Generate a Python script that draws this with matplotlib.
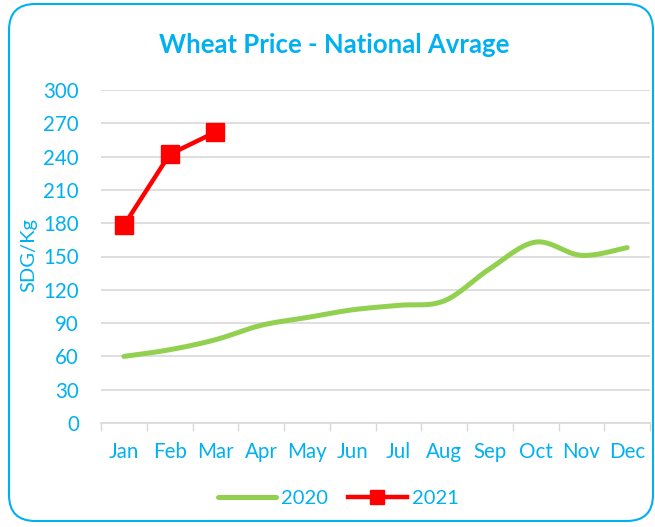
import numpy as np
import matplotlib
matplotlib.use("Agg")
import matplotlib.pyplot as plt
from matplotlib.patches import FancyBboxPatch
from matplotlib.lines import Line2D

months = ["Jan", "Feb", "Mar", "Apr", "May", "Jun", "Jul", "Aug", "Sep", "Oct", "Nov", "Dec"]
price_2020 = [60, 66, 75, 88, 95, 102, 106, 110, 139, 163, 151, 158]
price_2021 = [178, 242, 262]
yticks = [0, 30, 60, 90, 120, 150, 180, 210, 240, 270, 300]

CYAN = "#00B0F0"
GREEN = "#92D050"
RED = "#FF0000"
plt.rcParams['font.family'] = ['Lato', 'DejaVu Sans']


def smooth(xs, ys, n=30):
    # Excel-style smoothed line (Catmull-Rom Bezier, tension 1/6)
    xs = np.asarray(xs, float)
    ys = np.asarray(ys, float)
    px, py = [], []
    for i in range(len(xs) - 1):
        x0, y0 = (xs[i - 1], ys[i - 1]) if i > 0 else (xs[i], ys[i])
        x1, y1 = xs[i], ys[i]
        x2, y2 = xs[i + 1], ys[i + 1]
        x3, y3 = (xs[i + 2], ys[i + 2]) if i + 2 < len(xs) else (xs[i + 1], ys[i + 1])
        c1x, c1y = x1 + (x2 - x0) / 6, y1 + (y2 - y0) / 6
        c2x, c2y = x2 - (x3 - x1) / 6, y2 - (y3 - y1) / 6
        t = np.linspace(0, 1, n)
        bx = (1 - t) ** 3 * x1 + 3 * (1 - t) ** 2 * t * c1x + 3 * (1 - t) * t ** 2 * c2x + t ** 3 * x2
        by = (1 - t) ** 3 * y1 + 3 * (1 - t) ** 2 * t * c1y + 3 * (1 - t) * t ** 2 * c2y + t ** 3 * y2
        px.extend(bx); py.extend(by)
    return np.array(px), np.array(py)


fig = plt.figure(figsize=(6.55, 5.27), dpi=100)
fig.patch.set_facecolor("white")

border = FancyBboxPatch((9 / 655, 6 / 527), 644 / 655, 517 / 527,
                        boxstyle="round,pad=0,rounding_size=0.04",
                        transform=fig.transFigure, fill=False,
                        edgecolor=CYAN, linewidth=1.5, mutation_aspect=655 / 527)
fig.patches.append(border)

ax = fig.add_axes([101 / 655, 1 - 423 / 527, 549 / 655, 333 / 527])
x = np.arange(len(months))
sx, sy = smooth(x, price_2020)
ax.plot(sx, sy, color=GREEN, lw=3.6, solid_capstyle="round", zorder=3)
x21 = np.arange(len(price_2021))
ax.plot(x21, price_2021, color=RED, lw=3.2, marker="s", markersize=12.5, zorder=4)

ax.set_xlim(-0.5, len(months) - 0.5)
ax.set_ylim(0, 300)
ax.set_yticks(yticks)
ax.set_yticklabels([str(v) for v in yticks])
ax.set_xticks(x)
ax.set_xticklabels(months)
ax.set_xticks(np.arange(-0.5, len(months)), minor=True)
ax.tick_params(axis="x", which="major", length=0, pad=14, labelsize=14.8, labelcolor=CYAN)
ax.tick_params(axis="x", which="minor", length=6, width=1, color="#D9D9D9")
ax.tick_params(axis="y", length=0, pad=16, labelsize=14.8, labelcolor=CYAN)
ax.grid(axis="y", color="#D9D9D9", lw=1.2)
ax.set_axisbelow(True)
for s in ["left", "right", "top"]:
    ax.spines[s].set_visible(False)
ax.spines["bottom"].set_color("#D9D9D9")
ax.spines["bottom"].set_linewidth(1.2)

fig.text(29 / 655, 1 - 255 / 527, "SDG/Kg", rotation=90, color=CYAN, fontsize=14.5,
         ha="center", va="center")
fig.text(334 / 655, 1 - 45 / 527, "Wheat Price - National Avrage", color=CYAN,
         fontsize=18.5, fontweight="bold", ha="center", va="center")

handles = [Line2D([], [], color=GREEN, lw=3.6, solid_capstyle="round"),
           Line2D([], [], color=RED, lw=3.2, marker="s", markersize=10)]
leg = fig.legend(handles, ["2020", "2021"], loc="center", bbox_to_anchor=(338 / 655, 1 - 498 / 527),
                 ncol=2, frameon=False, fontsize=14.5, handlelength=2.9, handletextpad=0.25,
                 columnspacing=1.0)
for t in leg.get_texts():
    t.set_color(CYAN)

fig.savefig("out.png", dpi=100)
